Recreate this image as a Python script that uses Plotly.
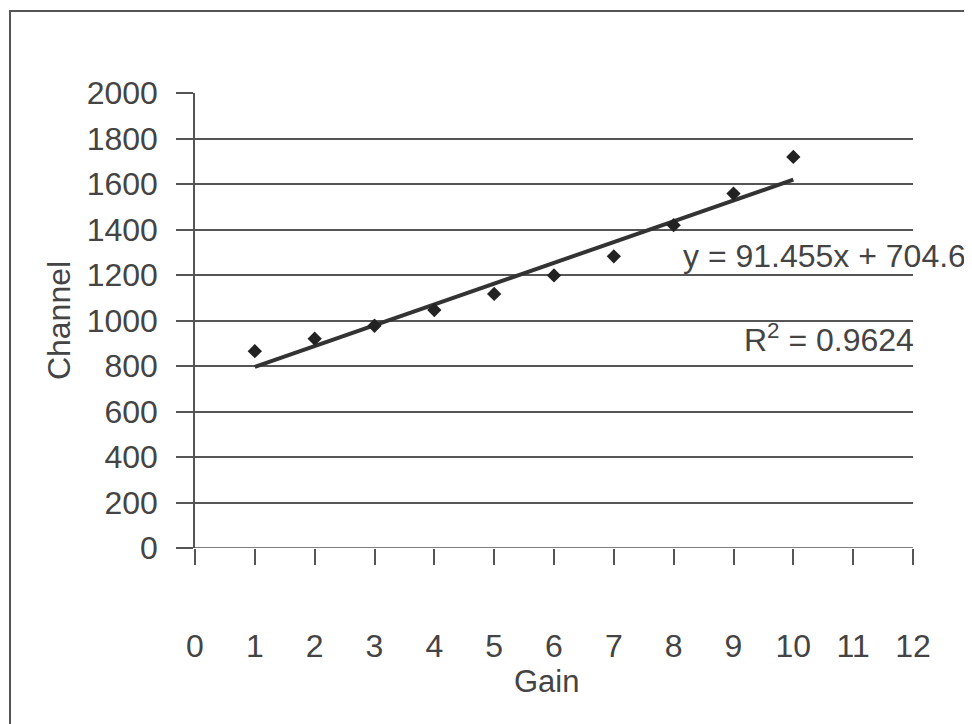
import plotly.graph_objects as go

gain = [1, 2, 3, 4, 5, 6, 7, 8, 9, 10]
channel = [865, 920, 977, 1046, 1117, 1198, 1282, 1419, 1558, 1719]
slope = 91.455
intercept = 704.6
r_squared = 0.9624
x_ticks = list(range(0, 13))
y_ticks = list(range(0, 2001, 200))

trend_x = [gain[0], gain[-1]]
trend_y = [slope * v + intercept for v in trend_x]

FONT = "Liberation Sans, Arial, sans-serif"
TXT = "#444444"

# figure geometry (page has an 8px body margin)
W, H = 964, 716
L, R, T, B = 187, 59, 85, 176
PW, PH = W - L - R, H - T - B

fig = go.Figure()
fig.add_trace(go.Scatter(x=trend_x, y=trend_y, mode="lines",
                         line=dict(color="#333333", width=4), showlegend=False))
fig.add_trace(go.Scatter(x=gain, y=channel, mode="markers",
                         marker=dict(symbol="diamond", size=11, color="#222222"),
                         showlegend=False))

fig.add_annotation(x=8.13, y=1285, xref="x", yref="y",
                   text=f"y = {slope}x + {intercept}", showarrow=False,
                   xanchor="left", yanchor="middle",
                   font=dict(family=FONT, size=32, color=TXT))
fig.add_annotation(x=1.0, y=925, xref="paper", yref="y",
                   text=f"R<sup>2</sup> = {r_squared}", showarrow=False,
                   xanchor="right", yanchor="middle", xshift=3,
                   font=dict(family=FONT, size=32, color=TXT))
fig.add_annotation(x=0.49, y=-(681 - 8 - (T + PH)) / PH, xref="paper", yref="paper",
                   text="Gain", showarrow=False, xanchor="center", yanchor="middle",
                   font=dict(family=FONT, size=31, color=TXT))

# outer frame
fig.add_shape(type="rect", xref="paper", yref="paper",
              x0=(2 - L) / PW, x1=(990 - L) / PW,
              y0=(T + PH - 740) / PH, y1=(T + PH - 3) / PH,
              line=dict(color="#555555", width=2), fillcolor="rgba(0,0,0,0)",
              layer="below")

fig.update_layout(
    width=W, height=H,
    margin=dict(l=L, r=R, t=T, b=B),
    paper_bgcolor="white", plot_bgcolor="white",
    font=dict(family=FONT, size=32, color=TXT),
    xaxis=dict(range=[0, 12], tickvals=x_ticks, ticks="outside", ticklen=16,
               tickwidth=1.5, tickcolor="#555555", showgrid=False, zeroline=False,
               showline=False, ticklabelstandoff=54,
               tickfont=dict(size=32)),
    yaxis=dict(range=[0, 2000], tickvals=y_ticks, ticks="outside", ticklen=17,
               tickwidth=1.5, tickcolor="#555555", showgrid=True,
               gridcolor="#555555", gridwidth=1.5, zeroline=False,
               showline=True, linecolor="#555555", linewidth=1.5,
               ticklabelstandoff=12, tickfont=dict(size=32),
               title=dict(text="Channel", standoff=6, font=dict(size=32))),
)
fig.add_shape(type="line", xref="paper", yref="y", x0=0, x1=1, y0=0, y1=0,
              line=dict(color="#555555", width=1.5))

fig.write_html("out.html")
